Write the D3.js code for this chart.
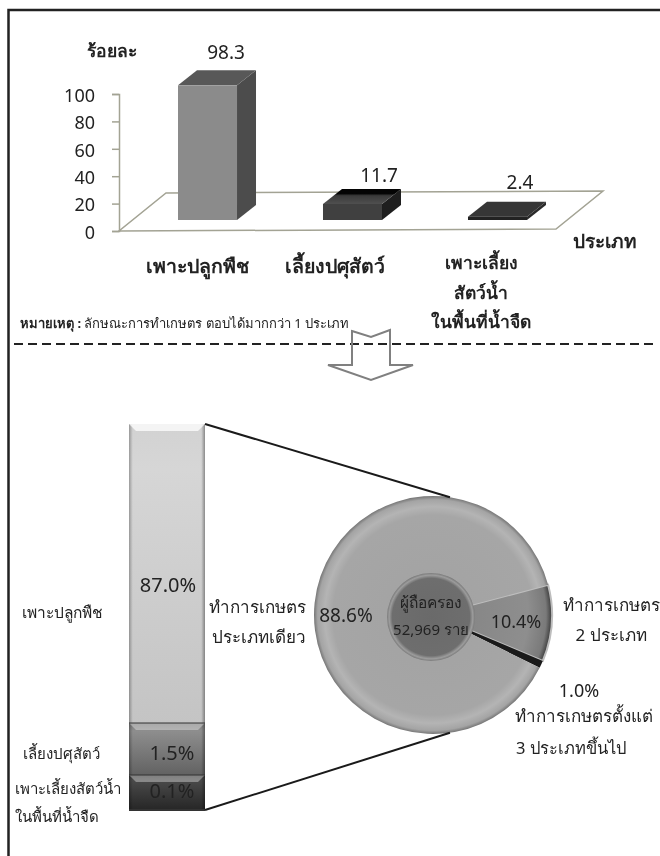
<!DOCTYPE html>
<html>
<head>
<meta charset="utf-8">
<script src="https://cdn.jsdelivr.net/npm/d3@7"></script>
<style>
  html, body { margin: 0; padding: 0; background: #fff; overflow: hidden; }
  svg { display: block; filter: blur(0.35px); }
  text { font-family: "Noto Sans", "DejaVu Sans", sans-serif; fill: #222; }
  .axis-y text { font-size: 18px; }
  .axis-y path, .axis-y line { stroke: #a3a394; stroke-width: 1.5; }
</style>
</head>
<body>
<svg id="chart"></svg>
<script>
const WIDTH = 660, HEIGHT = 856;

// upper chart
const types = ["เพาะปลูกพืช", "เลี้ยงปศุสัตว์", "เพาะเลี้ยงสัตว์น้ำ"];
const typeValues = [98.3, 11.7, 2.4];
const typeLabels = [["เพาะปลูกพืช"], ["เลี้ยงปศุสัตว์"], ["เพาะเลี้ยง", "สัตว์น้ำ", "ในพื้นที่น้ำจืด"]];
const yTicks = [0, 20, 40, 60, 80, 100];

// lower column (single type holders, split by type)
const columnNames = ["เพาะเลี้ยงสัตว์น้ำ", "เลี้ยงปศุสัตว์", "เพาะปลูกพืช"];
const columnValues = [0.1, 1.5, 87.0];

// pie
const pieNames = ["2 ประเภท", "ตั้งแต่ 3 ประเภท", "ประเภทเดียว"];
const pieValues = [10.4, 1.0, 88.6];

const svg = d3.select("#chart").attr("width", WIDTH).attr("height", HEIGHT);
const defs = svg.append("defs");

function label(x, y, str, size, anchor, weight) {
  return svg.append("text")
    .attr("x", x).attr("y", y)
    .attr("font-size", size)
    .attr("text-anchor", anchor || "start")
    .attr("font-weight", weight || "normal")
    .text(str);
}

// frame
svg.append("path")
  .attr("d", `M8.5 ${HEIGHT} V10 H${WIDTH}`)
  .attr("fill", "none").attr("stroke", "#222").attr("stroke-width", 2.5);

// ---------- 3D bars ----------
const y = d3.scaleLinear().domain([0, 100]).range([231, 94]);
const x = d3.scaleBand().domain(types).range([178, 527]).paddingInner(0.593).paddingOuter(0);

const floorDepth = { dx: 47, dy: -38 };
const barDepth = { dx: 19, dy: -15 };
const barLift = 11;
const floorRight = 556;

svg.append("polygon")
  .attr("points", [
    [119, y(0)], [floorRight, y(0) - 2],
    [floorRight + floorDepth.dx, y(0) - 2 + floorDepth.dy],
    [119 + floorDepth.dx, y(0) + floorDepth.dy]
  ].join(" "))
  .attr("fill", "#fff").attr("stroke", "#a3a394").attr("stroke-width", 1.5);

const axisG = svg.append("g")
  .attr("class", "axis-y")
  .attr("transform", "translate(119,0)")
  .call(d3.axisLeft(y).tickValues(yTicks).tickSize(7).tickPadding(17));
axisG.selectAll("text").attr("dy", "0.4em");

// top of the second bar goes from mottled grey in front to black behind
const topGrad = defs.append("linearGradient").attr("id", "bar2top").attr("x1", 0).attr("x2", 0).attr("y1", 1).attr("y2", 0);
topGrad.append("stop").attr("offset", "0%").attr("stop-color", "#505050");
topGrad.append("stop").attr("offset", "55%").attr("stop-color", "#3a3a3a");
topGrad.append("stop").attr("offset", "70%").attr("stop-color", "#040404");

const barColors = [
  { front: "#8b8b8b", top: "#585858", side: "#4c4c4c" },
  { front: "#404040", top: "url(#bar2top)", side: "#1e1e1e" },
  { front: "#222222", top: "#363636", side: "#2a2a2a" }
];

const bars = svg.append("g").selectAll("g").data(types).join("g");
bars.each(function (d, i) {
  const g = d3.select(this);
  const x0 = x(d), x1 = x0 + x.bandwidth();
  const yb = y(0) - barLift, yt = y(typeValues[i]) - barLift;
  const c = barColors[i];
  g.append("polygon").attr("fill", c.side)
    .attr("points", [[x1, yb], [x1 + barDepth.dx, yb + barDepth.dy], [x1 + barDepth.dx, yt + barDepth.dy], [x1, yt]].join(" "));
  g.append("polygon").attr("fill", c.top)
    .attr("points", [[x0, yt], [x1, yt], [x1 + barDepth.dx, yt + barDepth.dy], [x0 + barDepth.dx, yt + barDepth.dy]].join(" "));
  g.append("rect").attr("x", x0).attr("y", yt).attr("width", x1 - x0).attr("height", yb - yt).attr("fill", c.front);
});

// value labels sit a bit differently on each bar in the original
const valueOffset = [[48, -11], [56, -7], [52, -13]];
types.forEach((d, i) => {
  label(x(d) + valueOffset[i][0], y(typeValues[i]) - barLift + barDepth.dy + valueOffset[i][1],
    typeValues[i].toFixed(1), 19, "middle");
});

const labelX = [197, 335, 481];
const labelY = [273, 273, 269];
typeLabels.forEach((lines, i) => {
  lines.forEach((s, j) => {
    label(labelX[i], labelY[i] + j * 29.5, s, lines.length > 1 ? 17.5 : 19.5, "middle", "bold");
  });
});
label(87, 57, "ร้อยละ", 17.5, "start", "bold");
label(573, 248, "ประเภท", 19, "start", "bold");

const note = label(20, 328, "หมายเหตุ :", 13, "start", "bold");
note.append("tspan").attr("font-weight", "normal").text(" ลักษณะการทำเกษตร ตอบได้มากกว่า 1 ประเภท");

// dashed divider + arrow
svg.append("line")
  .attr("x1", 14).attr("x2", 654).attr("y1", 344).attr("y2", 344)
  .attr("stroke", "#222").attr("stroke-width", 2).attr("stroke-dasharray", "9 5");
svg.append("polygon")
  .attr("points", "352,331 371,337 390,330 390,365 413,365 371,380 328,365 352,365")
  .attr("fill", "none").attr("stroke", "#808080").attr("stroke-width", 2);

// ---------- lower column ----------
// the column is not to scale in the original, small parts are stretched
const cum = d3.cumsum(columnValues);
const colY = d3.scaleLinear().domain([0, cum[0], cum[1], cum[2]]).range([810, 775, 723, 424]);
const colX0 = 129, colX1 = 205;
const colStops = [
  ["#262626", "#4a4a4a", "#3a3a3a"],
  ["#626262", "#8e8e8e", "#7a7a7a"],
  ["#c4c4c4", "#d6d6d6", "#d2d2d2"]
];

colStops.forEach((s, i) => {
  const id = "col" + i;
  const gr = defs.append("linearGradient").attr("id", id).attr("x1", 0).attr("x2", 0).attr("y1", 1).attr("y2", 0);
  gr.append("stop").attr("offset", "0%").attr("stop-color", s[0]);
  gr.append("stop").attr("offset", "85%").attr("stop-color", s[1]);
  gr.append("stop").attr("offset", "100%").attr("stop-color", s[2]);
});
const edge = defs.append("linearGradient").attr("id", "colEdge");
[[0, "#000", 0.28], [0.05, "#000", 0], [0.95, "#000", 0], [1, "#000", 0.35]].forEach(e => {
  edge.append("stop").attr("offset", e[0]).attr("stop-color", e[1]).attr("stop-opacity", e[2]);
});

columnValues.forEach((v, i) => {
  const yTop = colY(cum[i]), yBot = colY(i === 0 ? 0 : cum[i - 1]);
  svg.append("rect").attr("x", colX0).attr("y", yTop).attr("width", colX1 - colX0).attr("height", yBot - yTop)
    .attr("fill", `url(#col${i})`);
  svg.append("rect").attr("x", colX0).attr("y", yTop).attr("width", colX1 - colX0).attr("height", yBot - yTop)
    .attr("fill", "url(#colEdge)");
  // bevel highlight along the top of each part
  svg.append("polygon")
    .attr("points", [[colX0, yTop], [colX1, yTop], [colX1 - 7, yTop + 7], [colX0 + 7, yTop + 7]].join(" "))
    .attr("fill", "#fff").attr("opacity", i === 2 ? 0.75 : 0.35);
  svg.append("line").attr("x1", colX0).attr("x2", colX1).attr("y1", yBot).attr("y2", yBot)
    .attr("stroke", "#333").attr("stroke-width", i === 0 ? 2 : 1);
});

label(168, 592, "87.0%", 20, "middle");
label(172, 760, "1.5%", 20, "middle");
label(172, 798, "0.1%", 20, "middle");
label(22, 618, columnNames[2], 15.5);
label(23, 759, columnNames[1], 15);
label(15, 794, columnNames[0], 15);
label(15, 822, "ในพื้นที่น้ำจืด", 15);

// ---------- pie ----------
const cx = 433, cy = 615, R = 119, hole = 44;
const pieStart = 75.3 * Math.PI / 180;
const pie = d3.pie().sort(null).startAngle(pieStart).endAngle(pieStart + 2 * Math.PI);
const arc = d3.arc().innerRadius(0).outerRadius(R);
const pieG = svg.append("g").attr("transform", `translate(${cx},${cy})`);

const rim = defs.append("radialGradient").attr("id", "pieMain")
  .attr("gradientUnits", "userSpaceOnUse").attr("cx", 0).attr("cy", 0).attr("r", R);
[[0, "#a2a2a2"], [0.84, "#a6a6a6"], [0.91, "#b4b4b4"], [0.97, "#a4a4a4"], [1, "#767676"]].forEach(s => {
  rim.append("stop").attr("offset", s[0]).attr("stop-color", s[1]);
});
const rim2 = defs.append("radialGradient").attr("id", "pieSecond")
  .attr("gradientUnits", "userSpaceOnUse").attr("cx", 0).attr("cy", 0).attr("r", R);
[[0, "#828282"], [0.8, "#8e8e8e"], [0.95, "#7a7a7a"], [1, "#3c3c3c"]].forEach(s => {
  rim2.append("stop").attr("offset", s[0]).attr("stop-color", s[1]);
});
const pieFills = ["url(#pieSecond)", "#1a1a1a", "url(#pieMain)"];

pieG.selectAll("path.slice").data(pie(pieValues)).join("path")
  .attr("class", "slice")
  .attr("d", arc)
  .attr("fill", (d, i) => pieFills[i])
  .attr("stroke", (d, i) => i === 0 ? "#bdbdbd" : "none")
  .attr("stroke-width", 2);

const centerGrad = defs.append("radialGradient").attr("id", "pieCenter");
[[0, "#6a6a6a"], [0.88, "#6e6e6e"], [0.95, "#9c9c9c"], [1, "#7a7a7a"]].forEach(s => {
  centerGrad.append("stop").attr("offset", s[0]).attr("stop-color", s[1]);
});
pieG.append("circle").attr("cx", -2).attr("cy", 2).attr("r", hole).attr("fill", "url(#pieCenter)");

// lines from the column to the single-type slice
const lineAngle = 8.2 * Math.PI / 180;
const lineEnds = [
  [colX1, colY(cum[2]), cx + R * Math.sin(lineAngle), cy - R * Math.cos(lineAngle)],
  [colX1, colY(0), cx + R * Math.sin(lineAngle), cy + R * Math.cos(lineAngle)]
];
svg.selectAll("line.link").data(lineEnds).join("line")
  .attr("class", "link")
  .attr("x1", d => d[0]).attr("y1", d => d[1]).attr("x2", d => d[2]).attr("y2", d => d[3])
  .attr("stroke", "#1a1a1a").attr("stroke-width", 2);

label(431, 608, "ผู้ถือครอง", 15.5, "middle");
label(431, 635, "52,969 ราย", 15, "middle");
label(346, 622, pieValues[2].toFixed(1) + "%", 19, "middle");
label(516, 628, pieValues[0].toFixed(1) + "%", 18, "middle");
label(306, 613, "ทำการเกษตร", 17, "end");
label(306, 643, "ประเภทเดียว", 17, "end");
label(611, 611, "ทำการเกษตร", 17, "middle");
label(611, 641, pieNames[0], 17, "middle");
label(579, 697, pieValues[1].toFixed(1) + "%", 18, "middle");
label(584, 722, "ทำการเกษตรตั้งแต่", 17, "middle");
label(516, 754, "3 ประเภทขึ้นไป", 16.5, "start");
</script>
</body>
</html>
